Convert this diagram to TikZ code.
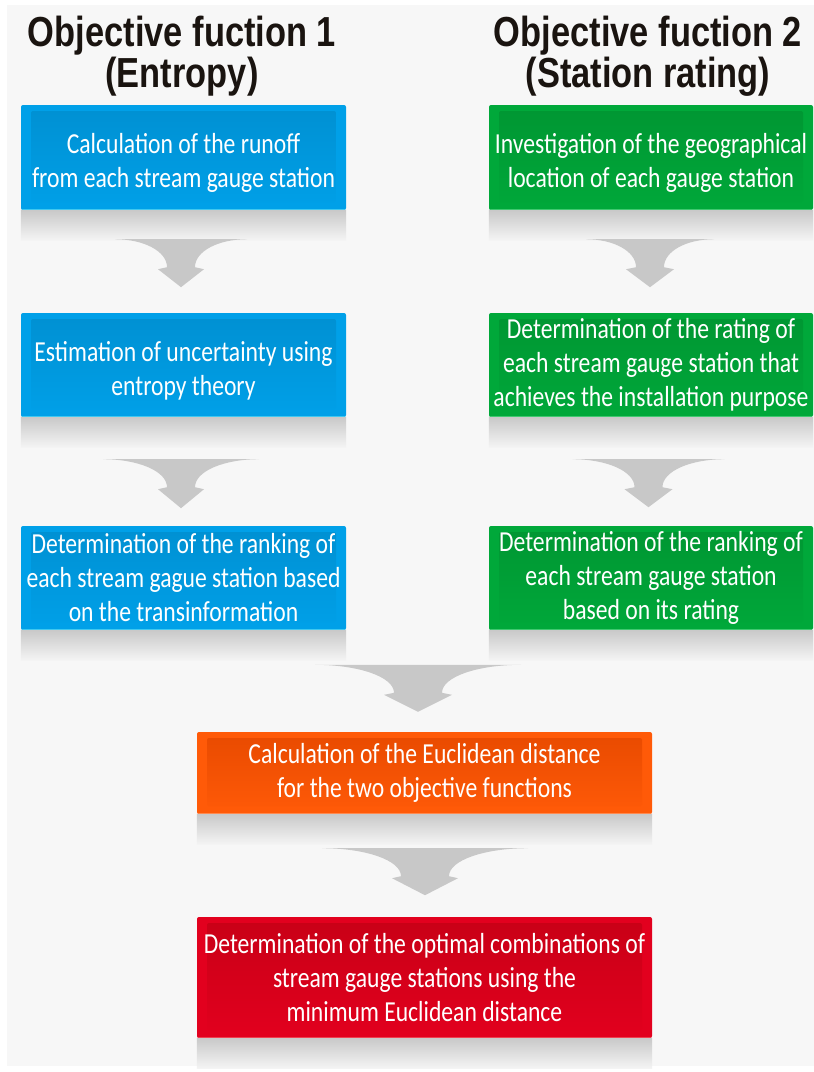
\documentclass[tikz,border=0pt]{standalone}
\usepackage{fontspec}
\setmainfont{Carlito}[FakeStretch=0.815]
\newfontfamily\titlefont{Liberation Sans}[FakeStretch=0.82]
\usetikzlibrary{calc}
\definecolor{bgc}{HTML}{F7F7F7}
\definecolor{titlec}{HTML}{1A1410}
\definecolor{shgray}{HTML}{C9C9C9}
\definecolor{shend}{HTML}{F4F4F4}
\definecolor{arrowc}{HTML}{C8C8C8}
\definecolor{bluem}{HTML}{00A0E8}
\definecolor{blued}{HTML}{0090D2}
\definecolor{bluel}{HTML}{40C8F0}
\definecolor{greenm}{HTML}{00A83A}
\definecolor{greend}{HTML}{009632}
\definecolor{greenl}{HTML}{40C870}
\definecolor{orangem}{HTML}{FF5A08}
\definecolor{oranged}{HTML}{E84A00}
\definecolor{orangel}{HTML}{FF8A50}
\definecolor{redm}{HTML}{E2001E}
\definecolor{redd}{HTML}{C80016}
\definecolor{redl}{HTML}{F04050}
\newcommand\dn{\rule{0pt}{31pt}}
\newcommand\funnel[7]{% anchor, dx, dy, halftop, stem, head, tip
  \begin{scope}[shift={(#1)}]
    \fill[arrowc, shift={(#2,#3)}] (-#4,0) -- (#4,0)
      .. controls ({#5+0.45*(#4-#5)},0) and (#5,12) .. (#5,28)
      -- (#6,30) -- (0,#7) -- (-#6,30) -- (-#5,28)
      .. controls (-#5,12) and ({-#5-0.45*(#4-#5)},0) .. (-#4,0) -- cycle;
  \end{scope}}
\begin{document}
\begin{tikzpicture}[x=1pt,y=-1pt,
  titletext/.style={font=\titlefont\bfseries\fontsize{42}{41}\selectfont,
    align=center, text=titlec, inner sep=0pt},
  flowbox/.style n args={3}{fill=#1, rounded corners=2pt, inner sep=0pt,
    text=white, align=center, font=\fontsize{29}{34}\selectfont,
    path picture={
      \shade[top color=#2, bottom color=#1]
        ([xshift=10pt,yshift=-6pt]path picture bounding box.north west)
        rectangle ([xshift=-10pt,yshift=8pt]path picture bounding box.south east);
      \draw[#3, line width=1.2pt]
        ([yshift=0.6pt]path picture bounding box.south west)
        -- ([yshift=0.6pt]path picture bounding box.south east);
    }},
  bluebox/.style={flowbox={bluem}{blued}{bluel}},
  greenbox/.style={flowbox={greenm}{greend}{greenl}},
  orangebox/.style={flowbox={orangem}{oranged}{orangel}},
  redbox/.style={flowbox={redm}{redd}{redl}},
  shadowfill/.style={top color=shgray, bottom color=shend}
]
\useasboundingbox (0,0) rectangle (814,1072);
\fill[white] (0,0) rectangle (814,1072);
\fill[bgc] (7,5) rectangle (814,1066);

% titles
\node[titletext] (t1) at (182,56) {Objective fuction 1\\(Entropy)};
\node[titletext] (t2) at (648,56) {Objective fuction 2\\(Station rating)};

% boxes
\node[bluebox, minimum width=325pt, minimum height=105pt] (b1) at (183.5,157.5)
  {\dn Calculation of the runoff\\from each stream gauge station};
\node[greenbox, minimum width=324pt, minimum height=105pt] (g1) at (651,157.5)
  {\dn Investigation of the geographical\\location of each gauge station};
\node[bluebox, minimum width=325pt, minimum height=104pt] (b2) at (183.5,365)
  {\dn Estimation of uncertainty using\\entropy theory};
\node[greenbox, minimum width=324pt, minimum height=104pt] (g2) at (651,365)
  {Determination of the rating of\\each stream gauge station that\\achieves the installation purpose};
\node[bluebox, minimum width=325pt, minimum height=104pt] (b3) at (183.5,578)
  {Determination of the ranking of\\each stream gague station based\\on the transinformation};
\node[greenbox, minimum width=324pt, minimum height=104pt] (g3) at (651,578)
  {Determination of the ranking of\\each stream gauge station\\based on its rating};
\node[orangebox, minimum width=455pt, minimum height=82pt] (o) at (424.5,773)
  {Calculation of the Euclidean distance\\for the two objective functions};
\node[redbox, minimum width=455pt, minimum height=121pt] (r) at (424.5,977.5)
  {Determination of the optimal combinations of\\stream gauge stations using the\\minimum Euclidean distance};

% shadows under boxes
\foreach \n in {b1,g1,b2,g2,b3,g3,o,r}{
  \shade[shadowfill] (\n.south west) rectangle ($(\n.south east)+(0,30)$);
}

% funnel arrows
\funnel{b1.south}{-2.5}{29}{66}{14}{23}{48}
\funnel{g1.south}{-1}{29}{64}{14}{24}{48}
\funnel{b2.south}{-2.5}{42}{78}{14}{23}{49}
\funnel{g2.south}{-2.5}{42}{76}{14}{24}{48}
\funnel{o.north}{-6.5}{-67}{103}{24}{34}{47}
\funnel{o.south}{0.5}{34}{103}{24}{33}{47}
\end{tikzpicture}
\end{document}
